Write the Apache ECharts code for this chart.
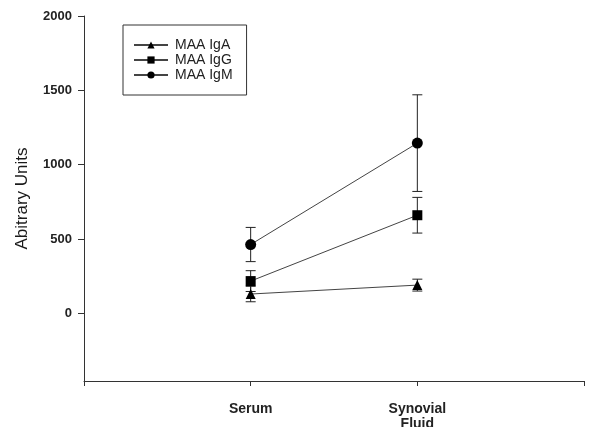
<!DOCTYPE html>
<html>
<head>
<meta charset="utf-8">
<script src="https://cdn.jsdelivr.net/npm/echarts@6/dist/echarts.min.js"></script>
<style>
  html, body { margin: 0; padding: 0; background: #fff; }
  #chart { width: 600px; height: 427px; }
</style>
</head>
<body>
<div id="chart"></div>
<script>
// Sample groups along the x axis (placed at positions 1 and 2)
var categories = ['Serum', 'Synovial\nFluid'];

// Mean values per antibody class
var igaMean = [130, 190];
var iggMean = [217, 660];
var igmMean = [463, 1145];

// Error (± SD) per antibody class
var igaErr = [52, 40];
var iggErr = [70, 120];
var igmErr = [115, 325];

// Y tick labels
var yTicks = [0, 500, 1000, 1500, 2000];

var FONT = 'Arial, Liberation Sans, sans-serif';

function points(means) {
  return means.map(function (v, i) { return [i + 1, v]; });
}
function errorData(means, errs) {
  return means.map(function (v, i) { return [i + 1, v - errs[i], v + errs[i]]; });
}

function errorSeries(means, errs) {
  return {
    type: 'custom',
    silent: true,
    z: 1,
    data: errorData(means, errs),
    renderItem: function (params, api) {
      var x = api.value(0);
      var lo = api.coord([x, api.value(1)]);
      var hi = api.coord([x, api.value(2)]);
      var cap = 5;
      var style = { stroke: '#222', lineWidth: 1 };
      return {
        type: 'group',
        children: [
          { type: 'line', shape: { x1: lo[0], y1: lo[1], x2: hi[0], y2: hi[1] }, style: style },
          { type: 'line', shape: { x1: hi[0] - cap, y1: hi[1], x2: hi[0] + cap, y2: hi[1] }, style: style },
          { type: 'line', shape: { x1: lo[0] - cap, y1: lo[1], x2: lo[0] + cap, y2: lo[1] }, style: style }
        ]
      };
    }
  };
}

function lineSeries(name, means, symbol, size) {
  return {
    name: name,
    type: 'line',
    z: 3,
    data: points(means),
    symbol: symbol,
    symbolSize: size,
    itemStyle: { color: '#000' },
    lineStyle: { color: '#444', width: 1 }
  };
}

var chart = echarts.init(document.getElementById('chart'), null, { renderer: 'canvas' });

chart.setOption({
  animation: false,
  backgroundColor: '#fff',
  grid: { left: 84, right: 16, top: 16, bottom: 46, containLabel: false, outerBoundsMode: 'none' },
  legend: {
    orient: 'vertical',
    left: 123,
    top: 25,
    padding: [13, 14, 13, 10],
    itemGap: 1,
    itemWidth: 34,
    itemHeight: 9,
    borderColor: '#333',
    borderWidth: 1,
    textStyle: { fontFamily: FONT, fontSize: 14, lineHeight: 14, color: '#222', padding: [0, 0, 0, 2] },
    data: ['MAA IgA', 'MAA IgG', 'MAA IgM']
  },
  xAxis: {
    type: 'value',
    min: 0,
    max: 3,
    interval: 1,
    splitLine: { show: false },
    axisLine: { onZero: false, lineStyle: { color: '#333', width: 1 } },
    axisTick: { show: true, length: 5, lineStyle: { color: '#333' } },
    axisLabel: {
      margin: 21,
      fontFamily: FONT,
      fontWeight: 'bold',
      fontSize: 14,
      color: '#222',
      lineHeight: 15,
      formatter: function (v) {
        var idx = Math.round(v) - 1;
        return (idx >= 0 && idx < categories.length) ? categories[idx] : '';
      }
    }
  },
  yAxis: {
    type: 'value',
    min: -455,
    max: 2000,
    name: 'Abitrary Units',
    nameLocation: 'middle',
    nameGap: 53,
    nameRotate: 90,
    nameTextStyle: { fontFamily: FONT, fontSize: 17, color: '#1a1a1a' },
    splitLine: { show: false },
    axisLine: { show: true, lineStyle: { color: '#333', width: 1 } },
    axisTick: { show: true, length: 6, customValues: yTicks, lineStyle: { color: '#333' } },
    axisLabel: {
      margin: 12,
      customValues: yTicks,
      fontFamily: FONT,
      fontWeight: 'bold',
      fontSize: 13,
      color: '#222',
      formatter: function (v) { return String(v); }
    }
  },
  series: [
    errorSeries(igaMean, igaErr),
    errorSeries(iggMean, iggErr),
    errorSeries(igmMean, igmErr),
    lineSeries('MAA IgA', igaMean, 'triangle', 10),
    lineSeries('MAA IgG', iggMean, 'rect', 10),
    lineSeries('MAA IgM', igmMean, 'circle', 11)
  ]
});
</script>
</body>
</html>
